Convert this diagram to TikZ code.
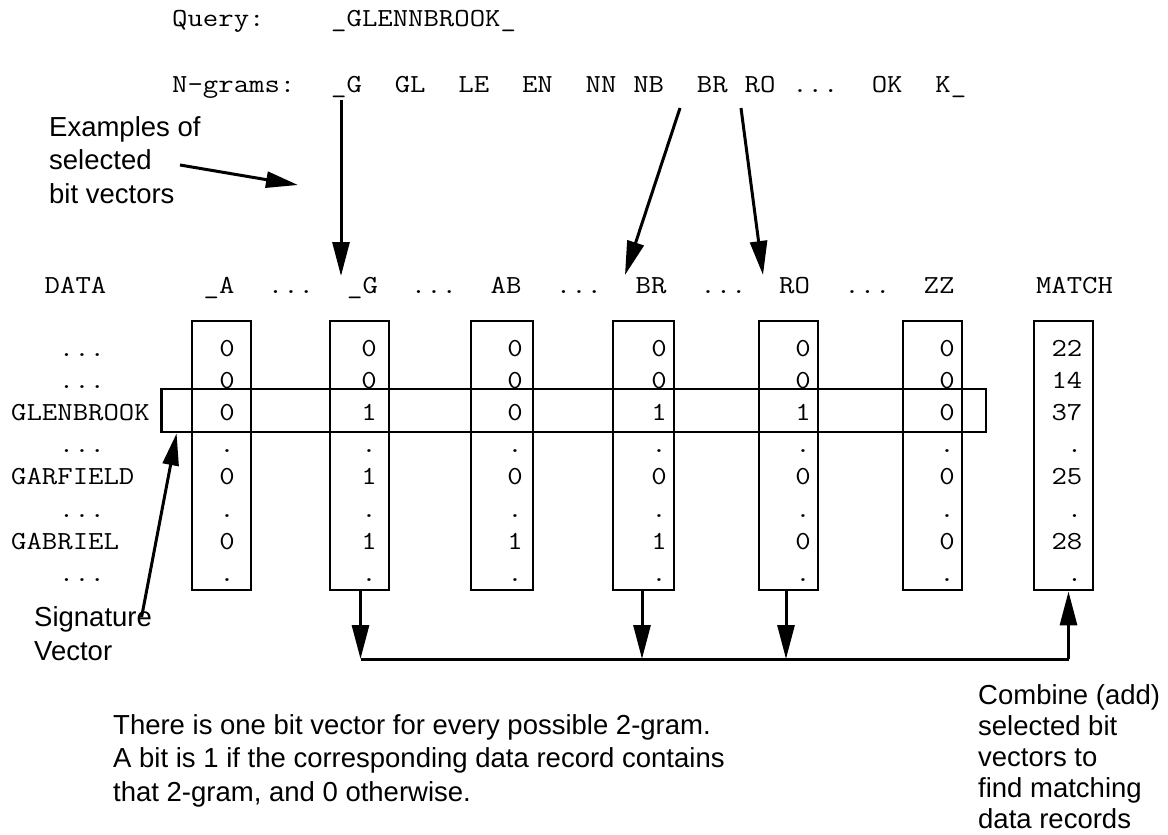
\documentclass[tikz,border=0pt]{standalone}
\usepackage{fontspec}
\setsansfont{Liberation Sans}
\usepackage{graphicx}
\usetikzlibrary{arrows.meta}
% widen Latin Modern Mono to a Courier-like pitch
\newcommand\cw[1]{\scalebox{1.15}[1]{#1}}

\begin{document}
\begin{tikzpicture}[x=1pt,y=-1pt,
  mono/.style={font=\ttfamily\fontsize{26}{26}\selectfont, inner sep=0pt},
  prose/.style={font=\sffamily\fontsize{27.5}{33.5}\selectfont, align=left, inner sep=0pt, anchor=base west},
  colbox/.style={draw, line width=2.8pt, minimum height=269pt, inner sep=0pt},
  pointer/.style={line width=3pt, -{Triangle[length=34pt,width=17pt]}},
  smallpointer/.style={line width=3pt, -{Triangle[length=32pt,width=16pt]}}
]
\fill[white] (0,0) rectangle (1168,835);
\useasboundingbox (0,0) rectangle (1168,835);

% query line
\node[mono, anchor=base west] (qlabel) at (172,26) {\cw{Query:}};
\node[mono, anchor=base west] (qword) at (331,26) {\cw{\_GLENNBROOK\_}};

% n-gram line
\foreach \t/\k [count=\i] in {N-grams:/0, \_G/10, GL/14, LE/18, EN/22, NN/26, NB/29, BR/33, RO/36, .{}.{}./39, OK/44, K\_/48}{
  \node[mono, anchor=base west] (ng\i) at ({172+15.9*\k},92) {\cw{\t}};
}

% column headers
\node[mono, anchor=base] (hData) at (75.5,293) {\cw{DATA}};
\node[mono, anchor=base] (hA) at (219,293) {\cw{\_A}};
\node[mono, anchor=base] (hd1) at (291,293) {\cw{...}};
\node[mono, anchor=base] (hG) at (362.5,293) {\cw{\_G}};
\node[mono, anchor=base] (hd2) at (434,293) {\cw{...}};
\node[mono, anchor=base] (hAB) at (506,293) {\cw{AB}};
\node[mono, anchor=base] (hd3) at (579,293) {\cw{...}};
\node[mono, anchor=base] (hBR) at (651,293) {\cw{BR}};
\node[mono, anchor=base] (hd4) at (723.5,293) {\cw{...}};
\node[mono, anchor=base] (hRO) at (794.5,293) {\cw{RO}};
\node[mono, anchor=base] (hd5) at (867.5,293) {\cw{...}};
\node[mono, anchor=base] (hZZ) at (939,293) {\cw{ZZ}};
\node[mono, anchor=base] (hM) at (1074.5,293) {\cw{MATCH}};

% bit vector columns
\node[colbox, minimum width=59pt] (bA) at (221.5,455.5) {};
\node[colbox, minimum width=59pt] (bG) at (359.5,455.5) {};
\node[colbox, minimum width=62pt] (bAB) at (502,455.5) {};
\node[colbox, minimum width=61pt] (bBR) at (643.5,455.5) {};
\node[colbox, minimum width=59pt] (bRO) at (788.5,455.5) {};
\node[colbox, minimum width=59pt] (bZZ) at (932.5,455.5) {};
\node[colbox, minimum width=59pt] (bM) at (1063.5,455.5) {};

% signature vector of one data record
\node[draw, line width=2.8pt, minimum width=824.5pt, minimum height=43pt, inner sep=0pt] (sig) at (573.75,410.5) {};

% bit values
\foreach \c/\xv/\vals in {A/227/{0,0,0,.,0,.,0,.}, G/369/{0,0,1,.,1,.,1,.}, AB/515/{0,0,0,.,0,.,1,.}, BR/659/{0,0,1,.,0,.,1,.}, RO/803/{0,0,1,.,0,.,0,.}, ZZ/947/{0,0,0,.,0,.,0,.}}{
  \foreach \v [count=\r] in \vals {
    \node[mono, anchor=base] (v\c-\r) at (\xv,{356+32.2*(\r-1)}) {\cw{\v}};
  }
}
% match counts
\foreach \v [count=\r] in {22,14,37,.,25,.,28,.}{
  \node[mono, anchor=base east] (vM-\r) at (1082.5,{356+32.2*(\r-1)}) {\cw{\v}};
}

% data records
\node[mono, anchor=base] (d1) at (82,356) {\cw{...}};
\node[mono, anchor=base] (d2) at (82,388.2) {\cw{...}};
\node[mono, anchor=base west] (d3) at (11,420.4) {\cw{GLENBROOK}};
\node[mono, anchor=base] (d4) at (82,452.6) {\cw{...}};
\node[mono, anchor=base west] (d5) at (11,484.8) {\cw{GARFIELD}};
\node[mono, anchor=base] (d6) at (82,517) {\cw{...}};
\node[mono, anchor=base west] (d7) at (11,549.2) {\cw{GABRIEL}};
\node[mono, anchor=base] (d8) at (82,581.4) {\cw{...}};

% annotations (anchored at the baseline of their last line)
\node[prose] (ex) at (49,203) {Examples of\\selected\\bit vectors};
\node[prose] (sv) at (34,660) {Signature\\Vector};
\node[prose] (note) at (113,801) {There is one bit vector for every possible 2-gram.\\A bit is 1 if the corresponding data record contains\\that 2-gram, and 0 otherwise.};
\node[prose, font=\sffamily\fontsize{27.5}{31}\selectfont] (comb) at (978,828) {Combine (add)\\selected bit\\vectors to\\find matching\\data records};

% selection arrows from the query n-grams
\coordinate (gTail) at (341,100);
\coordinate (gTip) at (341,276);
\coordinate (brTail) at (680,108);
\coordinate (brTip) at (625,275);
\coordinate (roTail) at (741,108);
\coordinate (roTip) at (763,275);
\draw[pointer] (gTail) -- (gTip);
\draw[pointer] (brTail) -- (brTip);
\draw[pointer] (roTail) -- (roTip);

\coordinate (exTail) at (180,165);
\coordinate (exTip) at (298,185);
\draw[smallpointer] (exTail) -- (exTip);

\coordinate (svTail) at (141.6,617);
\draw[smallpointer] (svTail) -- ([xshift=16.5pt]sig.south west);

% combining the selected vectors
\coordinate (bus) at (0,659);
\coordinate (gFoot) at ([xshift=1pt]bG.south);
\coordinate (brFoot) at ([xshift=-1.5pt]bBR.south);
\coordinate (roFoot) at ([xshift=-2.5pt]bRO.south);
\coordinate (mFoot) at ([xshift=5pt]bM.south);
\draw[pointer] (gFoot) -- (gFoot |- bus);
\draw[pointer] (brFoot) -- (brFoot |- bus);
\draw[pointer] (roFoot) -- (roFoot |- bus);
\draw[line width=3pt] (gFoot |- bus) -- (mFoot |- bus);
\draw[pointer] (mFoot |- bus) -- (mFoot);
\end{tikzpicture}
\end{document}
